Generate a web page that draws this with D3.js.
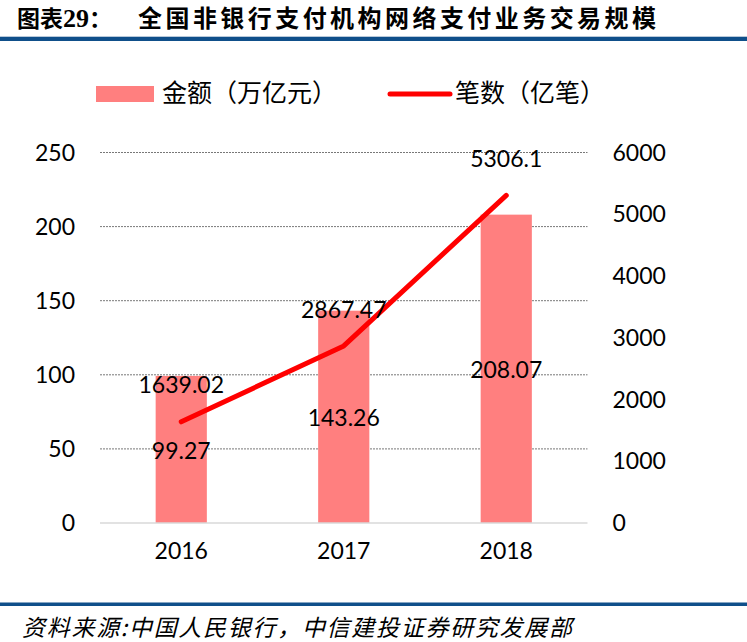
<!DOCTYPE html>
<html>
<head>
<meta charset="utf-8">
<script src="https://cdn.jsdelivr.net/npm/d3@7"></script>
<style>
  html, body { margin: 0; padding: 0; background: #fff; }
  svg { display: block; }
</style>
</head>
<body>
<div id="chart"></div>
<script>
// ---- data ----
const years = ["2016", "2017", "2018"];
const amounts = [99.27, 143.26, 208.07];        // 金额（万亿元）
const counts = [1639.02, 2867.47, 5306.1];      // 笔数（亿笔）
const leftTicks = [0, 50, 100, 150, 200, 250];
const rightTicks = [0, 1000, 2000, 3000, 4000, 5000, 6000];
const seriesNames = ["金额（万亿元）", "笔数（亿笔）"];
const titlePrefix = "图表";
const titleNum = "29";
const titleMain = "全国非银行支付机构网络支付业务交易规模";
const sourceText = "资料来源:中国人民银行，中信建投证券研究发展部";

// ---- layout ----
const W = 747, H = 642;
const plot = { left: 100, right: 587.5, top: 152.5, bottom: 523 };
const numFont = "Lato, 'Liberation Sans', sans-serif";
const cjkFont = "'Noto Sans CJK SC', sans-serif";
const barColor = "#FF7F7F";
const lineColor = "#FF0000";
const blue = "#0F4F8A";

const svg = d3.select("#chart").append("svg")
  .attr("width", W).attr("height", H);

// title
const t = svg.append("text").attr("x", 17).attr("y", 27)
  .attr("font-weight", "bold").attr("fill", "#000");
t.append("tspan").attr("font-family", cjkFont).attr("font-size", 23).text(titlePrefix);
t.append("tspan").attr("font-family", "'Liberation Serif', serif").attr("font-size", 26).text(titleNum);
t.append("tspan").attr("font-family", cjkFont).attr("font-size", 23).text("：");
svg.append("text").attr("x", 138).attr("y", 27)
  .attr("font-family", cjkFont).attr("font-size", 24).attr("font-weight", "bold")
  .attr("textLength", 518).attr("lengthAdjust", "spacing")
  .attr("fill", "#000").text(titleMain);

// top & bottom rules
svg.append("rect").attr("x", 0).attr("y", 36).attr("width", W).attr("height", 1).attr("fill", "#b8c9da");
svg.append("rect").attr("x", 0).attr("y", 37).attr("width", W).attr("height", 4).attr("fill", blue);
svg.append("rect").attr("x", 0).attr("y", 602.5).attr("width", W).attr("height", 3.5).attr("fill", blue);

// source
svg.append("text").attr("x", 22).attr("y", 636)
  .attr("font-family", cjkFont).attr("font-size", 23).attr("font-style", "italic")
  .attr("textLength", 550).attr("lengthAdjust", "spacing")
  .attr("fill", "#000").text(sourceText);

// scales
const x = d3.scaleBand().domain(years).range([plot.left, plot.right])
  .paddingInner(0.685).paddingOuter(0.3425);
const yL = d3.scaleLinear().domain([0, 250]).range([plot.bottom, plot.top]);
const yR = d3.scaleLinear().domain([0, 6000]).range([plot.bottom, plot.top]);

// gridlines
svg.append("g").selectAll("line").data(leftTicks.filter(d => d > 0)).join("line")
  .attr("x1", plot.left).attr("x2", plot.right)
  .attr("y1", d => yL(d)).attr("y2", d => yL(d))
  .attr("stroke", "#555").attr("stroke-width", 0.8).attr("stroke-dasharray", "2,1");

// bars
svg.append("g").selectAll("rect").data(amounts).join("rect")
  .attr("x", (d, i) => x(years[i]))
  .attr("width", x.bandwidth())
  .attr("y", d => yL(d))
  .attr("height", d => yL(0) - yL(d))
  .attr("fill", barColor);

// baseline axis
svg.append("line").attr("x1", plot.left).attr("x2", plot.right)
  .attr("y1", yL(0)).attr("y2", yL(0))
  .attr("stroke", "#d9d9d9").attr("stroke-width", 1.5);

// left axis
const axL = d3.axisLeft(yL).tickValues(leftTicks).tickFormat(d3.format("d")).tickSize(0).tickPadding(25);
const gL = svg.append("g").attr("transform", `translate(${plot.left},0)`).call(axL);
gL.select(".domain").remove();
gL.selectAll("text").attr("font-family", numFont).attr("font-size", 23).attr("fill", "#000").attr("dy", "0.33em");

// right axis
const axR = d3.axisRight(yR).tickValues(rightTicks).tickFormat(d3.format("d")).tickSize(0).tickPadding(25);
const gR = svg.append("g").attr("transform", `translate(${plot.right},0)`).call(axR);
gR.select(".domain").remove();
gR.selectAll("text").attr("font-family", numFont).attr("font-size", 23).attr("fill", "#000").attr("dy", "0.33em");

// bottom axis
const axB = d3.axisBottom(x).tickSize(0).tickPadding(28);
const gB = svg.append("g").attr("transform", `translate(0,${plot.bottom})`).call(axB);
gB.select(".domain").remove();
gB.selectAll("text").attr("font-family", numFont).attr("font-size", 23).attr("fill", "#000").attr("dy", "0.33em");

// line
const cx = i => x(years[i]) + x.bandwidth() / 2;
const line = d3.line().x((d, i) => cx(i)).y(d => yR(d));
svg.append("path").datum(counts).attr("d", line)
  .attr("fill", "none").attr("stroke", lineColor).attr("stroke-width", 5)
  .attr("stroke-linecap", "round").attr("stroke-linejoin", "round");

// bar labels (centered in bar)
svg.append("g").selectAll("text").data(amounts).join("text")
  .attr("x", (d, i) => cx(i))
  .attr("y", d => (yL(d) + yL(0)) / 2 + 1.5)
  .attr("dy", "0.33em").attr("text-anchor", "middle")
  .attr("font-family", numFont).attr("font-size", 23).attr("fill", "#000")
  .text(d => String(d));

// line labels (above points)
svg.append("g").selectAll("text").data(counts).join("text")
  .attr("x", (d, i) => cx(i))
  .attr("y", d => yR(d) - 36)
  .attr("dy", "0.33em").attr("text-anchor", "middle")
  .attr("font-family", numFont).attr("font-size", 23).attr("fill", "#000")
  .text(d => String(d));

// legend
const lg = svg.append("g");
lg.append("rect").attr("x", 96).attr("y", 86).attr("width", 58).attr("height", 16).attr("fill", barColor);
lg.append("text").attr("x", 162).attr("y", 102)
  .attr("font-family", cjkFont).attr("font-size", 25).attr("fill", "#000").text(seriesNames[0]);
lg.append("line").attr("x1", 390).attr("x2", 450).attr("y1", 94).attr("y2", 94)
  .attr("stroke", lineColor).attr("stroke-width", 5).attr("stroke-linecap", "round");
lg.append("text").attr("x", 455).attr("y", 102)
  .attr("font-family", cjkFont).attr("font-size", 25).attr("fill", "#000").text(seriesNames[1]);
</script>
</body>
</html>
